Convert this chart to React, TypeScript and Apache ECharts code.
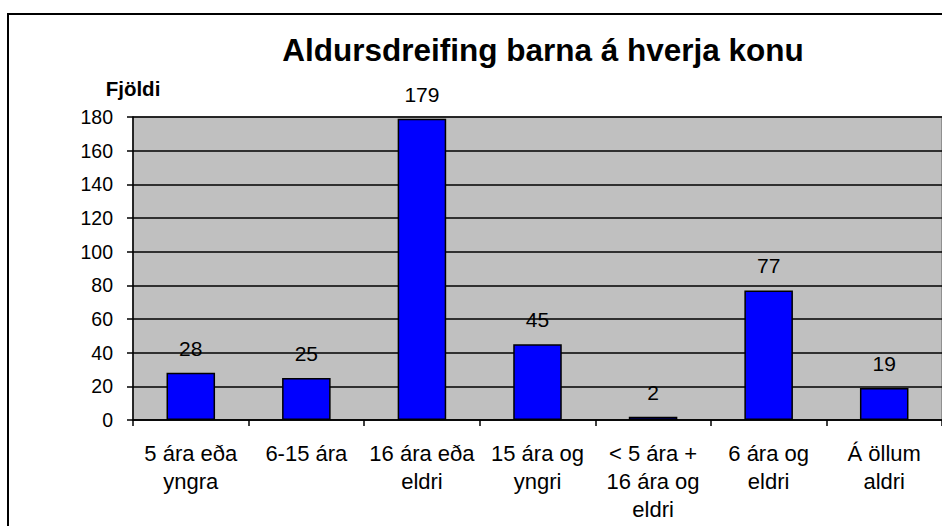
import React, { useEffect, useRef } from "react";
import * as echarts from "echarts";

const categories = [
  "5 ára eða\nyngra",
  "6-15 ára",
  "16 ára eða\neldri",
  "15 ára og\nyngri",
  "< 5 ára +\n16 ára og\neldri",
  "6 ára og\neldri",
  "Á öllum\naldri",
];
const values = [28, 25, 179, 45, 2, 77, 19];
const titleText = "Aldursdreifing barna á hverja konu";
const yAxisName = "Fjöldi";

const FONT = 'Arial, "Liberation Sans", sans-serif';

export default function App() {
  const ref = useRef<HTMLDivElement>(null);
  useEffect(() => {
    if (!ref.current) return;
    const chart = echarts.init(ref.current, null, { renderer: "svg" });
    chart.setOption({
      animation: false,
      backgroundColor: "#ffffff",
      textStyle: { fontFamily: FONT },
      title: {
        text: titleText,
        left: 538,
        top: 29,
        textAlign: "center",
        textStyle: { fontFamily: FONT, fontSize: 31.5, fontWeight: "bold", color: "#000" },
      },
      graphic: [
        {
          type: "rect",
          shape: { x: 8, y: 14, width: 1100, height: 700 },
          style: { fill: "none", stroke: "#000", lineWidth: 2 },
          z: 100,
        },
      ],
      grid: { left: 133, top: 117, right: -1, bottom: 106, show: true, backgroundColor: "#C0C0C0", borderColor: "#808080", borderWidth: 1.5 },
      xAxis: {
        type: "category",
        data: categories,
        axisLine: { lineStyle: { color: "#000", width: 1.5 } },
        axisTick: { show: true, length: 6, lineStyle: { color: "#000", width: 1.5 } },
        axisLabel: { color: "#000", fontSize: 22, lineHeight: 28, margin: 19, fontFamily: FONT, interval: 0 },
      },
      yAxis: {
        type: "value",
        min: 0,
        max: 180,
        interval: 20,
        name: yAxisName,
        nameLocation: "end",
        nameGap: 18,
        nameTextStyle: { fontFamily: FONT, fontSize: 20.5, fontWeight: "bold", color: "#000", align: "center" },
        axisLine: { show: true, lineStyle: { color: "#000", width: 1.5 } },
        axisTick: { show: true, length: 6, lineStyle: { color: "#000", width: 1.5 } },
        axisLabel: { color: "#000", fontSize: 19.5, margin: 20, fontFamily: FONT },
        splitLine: { show: true, lineStyle: { color: "#000", width: 1.5 } },
      },
      series: [
        {
          type: "bar",
          data: values,
          barCategoryGap: "58%",
          itemStyle: { color: "#0000FF", borderColor: "#000", borderWidth: 1.5 },
          label: { show: true, position: "top", distance: 14, color: "#000", fontSize: 21, fontFamily: FONT },
        },
      ],
    });
    return () => chart.dispose();
  }, []);
  return <div ref={ref} style={{ position: "absolute", left: 0, top: 0, width: 942, height: 526 }} />;
}
